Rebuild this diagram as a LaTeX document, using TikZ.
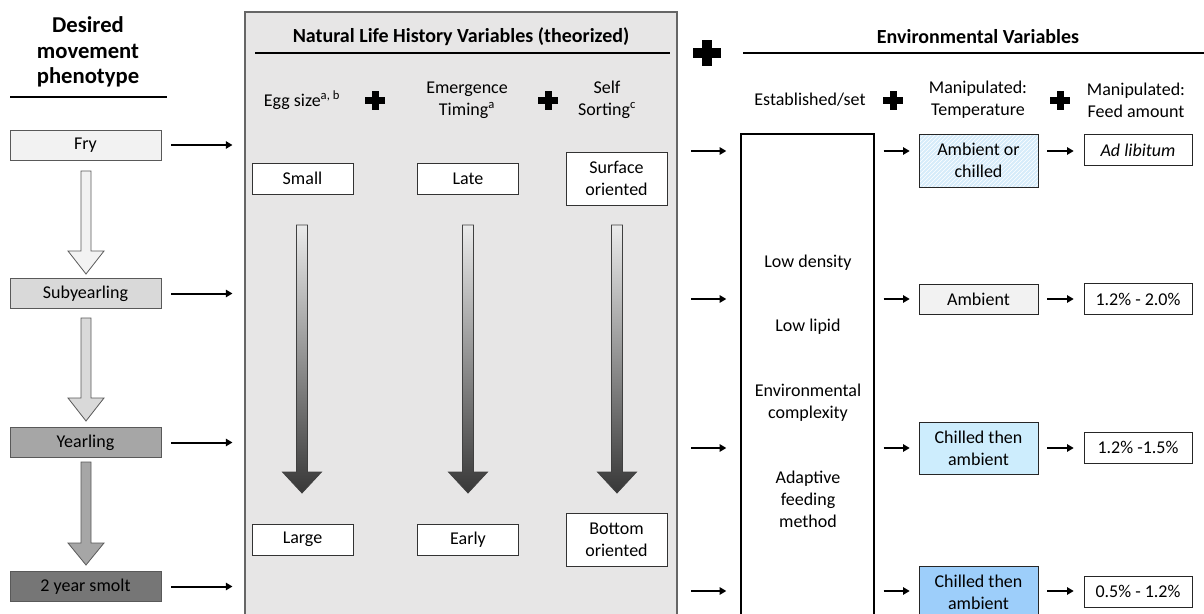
\documentclass[tikz,border=0pt]{standalone}
\usepackage{fontspec}
\setmainfont{Carlito}
\usepackage{xcolor}
\usetikzlibrary{arrows.meta}
\usetikzlibrary{patterns}
\usetikzlibrary{calc}

\definecolor{stageA}{RGB}{242,242,242}
\definecolor{stageB}{RGB}{217,217,217}
\definecolor{stageC}{RGB}{166,166,166}
\definecolor{stageD}{RGB}{118,118,118}
\definecolor{panelgray}{RGB}{231,230,230}
\definecolor{paleblue}{RGB}{214,236,250}
\definecolor{lightblue}{RGB}{205,237,253}
\definecolor{midblue}{RGB}{157,206,250}

\tikzset{
  txt/.style={font=\fontsize{13.5}{16.5}\selectfont, align=center, inner sep=0.75pt},
  headtxt/.style={font=\bfseries\fontsize{15}{18}\selectfont, align=center, inner sep=0.75pt},
  stagebox/.style={txt, draw=black!65, minimum width=113.25pt, minimum height=22.5pt},
  valbox/.style={txt, draw=black!80, fill=white, minimum width=75.75pt, minimum height=23.25pt},
  tempbox/.style={txt, draw=black!85, minimum width=89.25pt, minimum height=39pt},
  feedbox/.style={txt, draw=black!85, fill=white, minimum width=81pt, minimum height=23.5pt},
  conn/.style={line width=1.5pt, -{Triangle[length=5pt,width=5.5pt]}},
  rulebar/.style={line width=1.5pt},
  blockarrow/.style={draw=black!65, line width=0.6pt},
  gradarrow/.style={draw=black!75, line width=0.6pt, top color=black!8, bottom color=black!78},
  plussign/.pic={\fill (-10,-3.5) rectangle (10,3.5); \fill (-3.5,-9.5) rectangle (3.5,9.5);},
}

\begin{document}
\begin{tikzpicture}[x=0.75pt,y=0.75pt,yscale=-1,xscale=1]
\useasboundingbox (0,0) rectangle (1204,614);

% Desired movement phenotype column
\draw (88,52) node [txt, font=\bfseries\fontsize{17}{19}\selectfont] (desired) {Desired\\movement\\phenotype};
\draw [rulebar] (10,97) -- (167,97);

\node [stagebox, fill=stageA] (fry) at (85.5,145) {Fry};
\node [stagebox, fill=stageB] (subyr) at (85.5,293.5) {Subyearling};
\node [stagebox, fill=stageC] (yearl) at (85.5,442.5) {Yearling};
\node [stagebox, fill=stageD] (smolt) at (85.5,586.5) {2 year smolt};

%Down Arrow fry -> subyearling
\draw [blockarrow, fill=stageA] (81,171) -- (91,171) -- (91,251) -- (104,251) -- (86,274) -- (68,251) -- (81,251) -- cycle;
%Down Arrow subyearling -> yearling
\draw [blockarrow, fill=stageB] (81,318) -- (91,318) -- (91,398) -- (104,398) -- (86,421) -- (68,398) -- (81,398) -- cycle;
%Down Arrow yearling -> 2 year smolt
\draw [blockarrow, fill=stageC] (81,462) -- (91,462) -- (91,543) -- (104,543) -- (86,565) -- (68,543) -- (81,543) -- cycle;

% Natural life history panel
\node [draw=black!60, fill=panelgray, line width=0.8pt, minimum width=324pt, minimum height=459.75pt, inner sep=0pt] (nlh) at (461,318.5) {};
\draw (461,37) node [headtxt] (nlhtitle) {Natural Life History Variables (theorized)};
\draw [rulebar] (255,53) -- (670,53);

\draw (302,100) node [txt] (eggsize) {Egg size\textsuperscript{a, b}};
\draw (467,100) node [txt] (emerge) {Emergence\\Timing\textsuperscript{a}};
\draw (607,100) node [txt] (sorting) {Self\\Sorting\textsuperscript{c}};
\pic at (375,100) {plussign};
\pic at (548,100) {plussign};

\node [valbox] (small) at (302.5,178.5) {Small};
\node [valbox] (late) at (468,178.5) {Late};
\node [valbox, minimum height=39.75pt] (surface) at (616.5,178.5) {Surface\\oriented};
\node [valbox] (large) at (302.5,539.5) {Large};
\node [valbox] (early) at (468,539.5) {Early};
\node [valbox, minimum height=39.75pt] (bottom) at (616.5,539.5) {Bottom\\oriented};

%Shaded Down Arrows
\shade [gradarrow] (296.5,225) -- (307.5,225) -- (307.5,472) -- (321.5,472) -- (302,493) -- (282.5,472) -- (296.5,472) -- cycle;
\shade [gradarrow] (462.5,225) -- (473.5,225) -- (473.5,472) -- (487.5,472) -- (468,493) -- (448.5,472) -- (462.5,472) -- cycle;
\shade [gradarrow] (611.5,225) -- (622.5,225) -- (622.5,472) -- (636.5,472) -- (617,493) -- (597.5,472) -- (611.5,472) -- cycle;

% phenotype -> panel
\draw [conn] ($(fry.east)+(10,0)$) -- ($(fry.east -| nlh.west)+(-12,0)$);
\draw [conn] ($(subyr.east)+(10,0)$) -- ($(subyr.east -| nlh.west)+(-12,0)$);
\draw [conn] ($(yearl.east)+(10,0)$) -- ($(yearl.east -| nlh.west)+(-12,0)$);
\draw [conn] ($(smolt.east)+(10,0)$) -- ($(smolt.east -| nlh.west)+(-12,0)$);

% Environmental variables
\pic [scale=1.4] at (707,53) {plussign};
\draw (978,37) node [headtxt] (envtitle) {Environmental Variables};
\draw [rulebar] (743,53) -- (1204,53);

\draw (810,100) node [txt] (established) {Established/set};
\draw (978,100) node [txt] (temphead) {Manipulated:\\Temperature};
\draw (1136,100) node [txt] (feedhead) {Manipulated:\\Feed amount};
\pic at (893,100) {plussign};
\pic at (1060,100) {plussign};

\node [draw=black, line width=1pt, fill=white, minimum width=99.75pt, minimum height=368.25pt, inner sep=0pt] (est) at (807.5,379.5) {};
\node [txt] (lowdens) at (808,263) {Low density};
\node [txt] (lowlipid) at (808,327) {Low lipid};
\node [txt] (envcomp) at (808,402.5) {Environmental\\complexity};
\node [txt] (adaptive) at (808,499) {Adaptive\\feeding\\method};

\coordinate (r1) at (0,151);
\coordinate (r2) at (0,299);
\coordinate (r3) at (0,448);
\coordinate (r4) at (0,591);

\node [tempbox, preaction={fill=paleblue}, pattern=north east lines, pattern color=white, minimum height=39.75pt] (t1) at (978.5,160.5) {Ambient or\\chilled};
\node [tempbox, fill=stageA, minimum height=22.5pt] (t2) at (978.5,299) {Ambient};
\node [tempbox, fill=lightblue] (t3) at (978.5,448) {Chilled then\\ambient};
\node [tempbox, fill=midblue] (t4) at (978.5,592) {Chilled then\\ambient};

\node [feedbox] (f1) at (1138,150) {\textit{Ad libitum}};
\node [feedbox] (f2) at (1138,299) {1.2\% - 2.0\%};
\node [feedbox] (f3) at (1138,447.5) {1.2\% -1.5\%};
\node [feedbox] (f4) at (1138,591.5) {0.5\% - 1.2\%};

% rows of arrows
\draw [conn] ($(est.west |- r1)+(-49,0)$) -- ($(est.west |- r1)+(-14,0)$);
\draw [conn] ($(est.west |- r2)+(-49,0)$) -- ($(est.west |- r2)+(-14,0)$);
\draw [conn] ($(est.west |- r3)+(-49,0)$) -- ($(est.west |- r3)+(-14,0)$);
\draw [conn] ($(est.west |- r4)+(-49,0)$) -- ($(est.west |- r4)+(-14,0)$);

\draw [conn] ($(est.east |- r1)+(9,0)$) -- ($(t1.west |- r1)+(-9,0)$);
\draw [conn] ($(est.east |- r2)+(9,0)$) -- ($(t2.west |- r2)+(-9,0)$);
\draw [conn] ($(est.east |- r3)+(9,0)$) -- ($(t3.west |- r3)+(-9,0)$);
\draw [conn] ($(est.east |- r4)+(9,0)$) -- ($(t4.west |- r4)+(-9,0)$);

\draw [conn] ($(t1.east |- r1)+(9,0)$) -- ($(f1.west |- r1)+(-10,0)$);
\draw [conn] ($(t2.east |- r2)+(9,0)$) -- ($(f2.west |- r2)+(-10,0)$);
\draw [conn] ($(t3.east |- r3)+(9,0)$) -- ($(f3.west |- r3)+(-10,0)$);
\draw [conn] ($(t4.east |- r4)+(9,0)$) -- ($(f4.west |- r4)+(-10,0)$);

\end{tikzpicture}
\end{document}
